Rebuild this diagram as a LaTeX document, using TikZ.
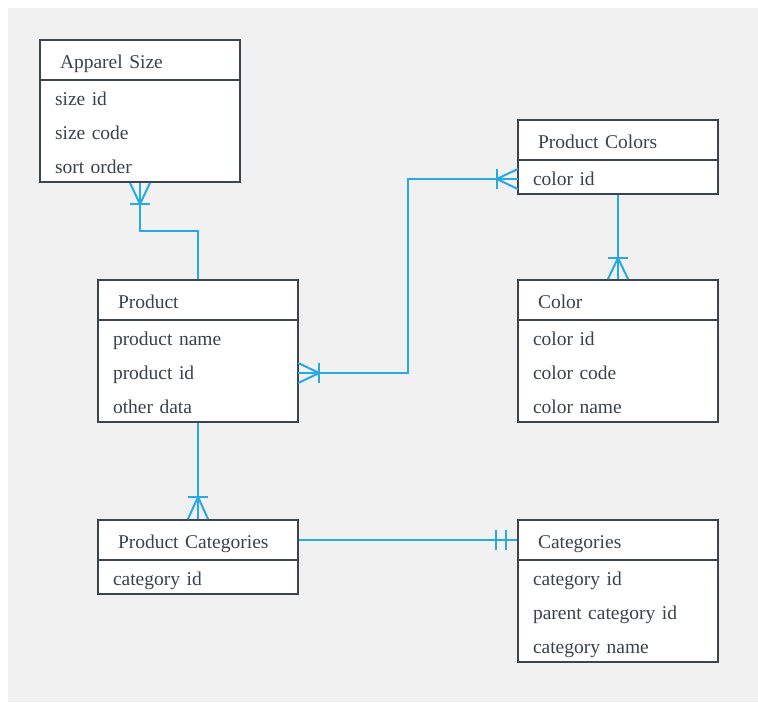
\documentclass[tikz,border=0pt]{standalone}
\usepackage{fontspec}
\setmainfont{Liberation Serif}[WordSpace=0.8]
\definecolor{bg}{HTML}{F1F1F1}
\definecolor{edge}{HTML}{3B4550}
\definecolor{ink}{HTML}{3A434D}
\definecolor{rel}{HTML}{29A9E1}
\newcommand\fnt{\fontsize{19.5}{23}\selectfont}
\begin{document}
\begin{tikzpicture}[x=1pt,y=-1pt,
 tbl/.style={draw=edge,line width=2pt,fill=white,minimum width=200pt,inner sep=0pt},
 hdr/.style={draw=edge,line width=2pt,minimum width=200pt,minimum height=40pt,text width=160pt,inner xsep=20pt,inner ysep=0pt,align=left,text=ink,font=\fnt,text height=20pt,text depth=4pt},
 row/.style={minimum width=200pt,text width=170pt,inner xsep=15pt,inner ysep=0pt,align=left,text=ink,font=\fnt,text height=17pt,text depth=4pt},
 relline/.style={draw=rel,line width=2pt},
]
\useasboundingbox (0,0) rectangle (758,702);
\fill[bg] (8,8) rectangle (758,702);

% Apparel Size
\node[tbl,minimum height=142pt] (as) at (140,111) {};
\node[hdr] (asH) at (140,60) {Apparel Size};
\node[row] (as1) at (140,99) {size id};
\node[row] (as2) at (140,133) {size code};
\node[row] (as3) at (140,167) {sort order};

% Product
\node[tbl,minimum height=142pt] (prod) at (198,351) {};
\node[hdr] (prodH) at (198,300) {Product};
\node[row] (prod1) at (198,339) {product name};
\node[row] (prod2) at (198,373) {product id};
\node[row] (prod3) at (198,407) {other data};

% Product Colors
\node[tbl,minimum height=74pt] (pc) at (618,157) {};
\node[hdr] (pcH) at (618,140) {Product Colors};
\node[row] (pc1) at (618,179) {color id};

% Color
\node[tbl,minimum height=142pt] (col) at (618,351) {};
\node[hdr] (colH) at (618,300) {Color};
\node[row] (col1) at (618,339) {color id};
\node[row] (col2) at (618,373) {color code};
\node[row] (col3) at (618,407) {color name};

% Product Categories
\node[tbl,minimum height=74pt] (pcat) at (198,557) {};
\node[hdr] (pcatH) at (198,540) {Product Categories};
\node[row] (pcat1) at (198,579) {category id};

% Categories
\node[tbl,minimum height=142pt] (cat) at (618,591) {};
\node[hdr] (catH) at (618,540) {Categories};
\node[row] (cat1) at (618,579) {category id};
\node[row] (cat2) at (618,613) {parent category id};
\node[row] (cat3) at (618,647) {category name};

% Connectors
\draw[relline] (as.south) -- ++(0,48) -| (prod.north);
\draw[relline] (as.south) ++(-10,0) -- ++(10,21) -- ++(10,-21);
\draw[relline] (as.south) ++(-10,21) -- ++(20,0);

\draw[relline] (prod2.east) -- ++(110,0) |- (pc1.west);
\draw[relline] (prod2.east) ++(0,-10) -- ++(21,10) -- ++(-21,10);
\draw[relline] (prod2.east) ++(21,-10) -- ++(0,20);
\draw[relline] (pc1.west) ++(0,-10) -- ++(-21,10) -- ++(21,10);
\draw[relline] (pc1.west) ++(-21,-10) -- ++(0,20);

\draw[relline] (pc.south) -- (col.north);
\draw[relline] (col.north) ++(-10,0) -- ++(10,-21) -- ++(10,21);
\draw[relline] (col.north) ++(-10,-21) -- ++(20,0);

\draw[relline] (prod.south) -- (pcat.north);
\draw[relline] (pcat.north) ++(-10,0) -- ++(10,-22) -- ++(10,22);
\draw[relline] (pcat.north) ++(-10,-22) -- ++(20,0);

\draw[relline] (pcatH.east) -- (catH.west);
\draw[relline] (catH.west) ++(-21,-10) -- ++(0,20);
\draw[relline] (catH.west) ++(-11,-10) -- ++(0,20);
\end{tikzpicture}
\end{document}
